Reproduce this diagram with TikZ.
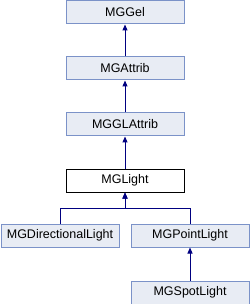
\documentclass[tikz,border=0pt]{standalone}
\usepackage{fontspec}
\setmainfont{Liberation Sans}
\usetikzlibrary{arrows.meta}
\definecolor{boxfill}{RGB}{232,236,244}
\definecolor{boxdraw}{RGB}{123,146,200}
\definecolor{edge}{RGB}{0,0,128}
\begin{document}
\begin{tikzpicture}[x=1pt,y=-1pt,
  cls/.style={draw=boxdraw,fill=boxfill,line width=1pt,minimum width=118pt,minimum height=23pt,inner sep=0pt,font=\fontsize{12.5}{14}\selectfont,anchor=north west},
  cur/.style={cls,draw=black,fill=white},
  inh/.style={draw=edge,line width=1pt,-{Triangle[length=6pt,width=5pt]}}]
\useasboundingbox (0,0) rectangle (250,304);
\node[cls] (gel) at (65.5,0.5) {MGGel};
\node[cls] (attrib) at (65.5,56.5) {MGAttrib};
\node[cls] (glattrib) at (65.5,112.5) {MGGLAttrib};
\node[cur] (light) at (65.5,168.5) {MGLight};
\node[cls] (dir) at (0.5,223.5) {MGDirectionalLight};
\node[cls] (point) at (130.5,223.5) {MGPointLight};
\node[cls] (spot) at (130.5,280.5) {MGSpotLight};
\draw[inh] (attrib) -- (gel);
\draw[inh] (glattrib) -- (attrib);
\draw[inh] (light) -- (glattrib);
\coordinate (j) at (125,208);
\draw[inh] (dir.north) |- (j) -- (light.south);
\draw[inh] (point.north) |- (j) -- (light.south);
\draw[inh] (spot) -- (point);
\end{tikzpicture}
\end{document}
